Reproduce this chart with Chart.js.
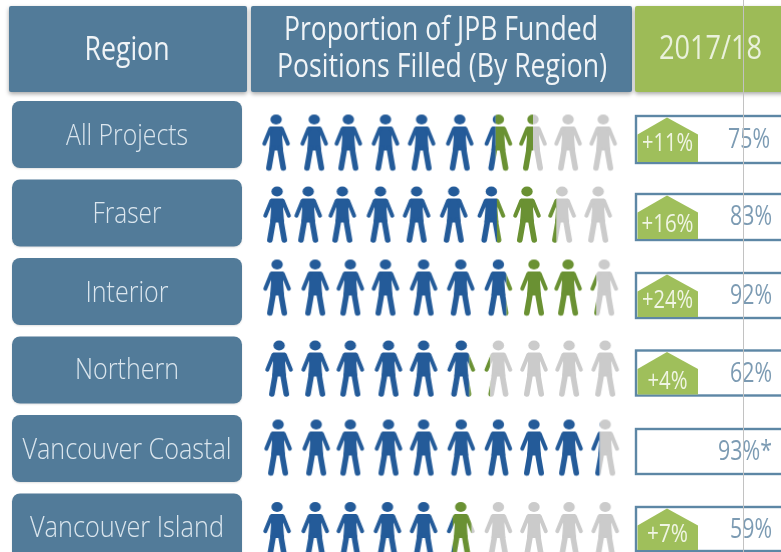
<!DOCTYPE html>
<html><head><meta charset="utf-8">
<style>html,body{margin:0;padding:0;background:#fff;width:781px;height:552px;overflow:hidden}canvas{display:block;filter:blur(.45px)}</style>
<script src="https://cdn.jsdelivr.net/npm/chart.js@4"></script></head>
<body><canvas id="c" width="781" height="600"></canvas>
<script>
// DATA
const regions = ["All Projects","Fraser","Interior","Northern","Vancouver Coastal","Vancouver Island"];
const filled2017 = [75,83,92,62,93,59];
const changePts  = [11,16,24,4,null,7];
const filledNotes = ["","","","","*",""];
const slots = [1,2,3,4,5,6,7,8,9,10];
const headerRegion = "Region";
const headerProportion = ["Proportion of JPB Funded","Positions Filled (By Region)"];
const headerYear = "2017/18";

// STYLE
const C = {head:"#527b99",box:"#527b99",blue:"#245b99",green:"#6a9133",grey:"#cbcbcb",hgreen:"#9dbb57",house:"#9fbf5b",
  text:"#f0f4f7",label:"#dbe6ee",pct:"#7c9bb3",stroke:"#5d87a5",rule:"#c2c2c2"};
const FF='"Open Sans"';
// small hand-placement offsets of the original (px): [row][slot]
const nudgeX = [
 [-2,0,-2,-1,-1,1,3.5,2,1,0],
 [-1,-6,-8,-6,-6,-5,-3.5,-4,-5,-5],
 [-1,1,0,-1,1,2,3.5,3,1,1],
 [1,1,0,2,1,2.5,3.5,3,2,2],
 [0,2,0,2,1,2.5,3.5,3,2,2],
 [-1,1,0,1,1,2,3.5,3,2,2]];
const nudgeY = [8.5,2,-3.5,-1,-0.5,3.5];
const statTop = [-18.5,-19,-18.5,-19.5,-19.5,-20];
const statH = [47,46,45,45,45,44];
const labelDy = [2,1,1.5,.5,1.5,1];
const pctDy = [6,4.5,5,4,4,3.5];
const chgDy = [9.5,12,9.5,11.5,11,8];
const pctCx = [749,751,751,751,745,751];
const chgW = [51,52,51,40,41,41];
const labelW = [122,69,83,104,209,194];

function personIcon(row,i){
  const cv=document.createElement('canvas');cv.width=80;cv.height=80;
  const x=cv.getContext('2d');
  const cx=40+nudgeX[row][i], cy=40+nudgeY[row]-23.5;
  const total=filled2017[row], chg=changePts[row]||0, prior=total-chg;
  const clamp=v=>Math.max(0,Math.min(1,v));
  const bEnd=clamp(prior/10-i), gEnd=clamp(total/10-i);
  const L=-13.5,W=27;
  const paint=(col,from,to)=>{
    if(to<=from)return;
    x.save();x.beginPath();
    const xl=from<=0?0:cx+L+W*from, xr=to>=1?80:cx+L+W*to;
    x.rect(xl,0,xr-xl,80);x.clip();
    x.fillStyle=col;x.strokeStyle=col;x.lineCap='round';x.lineJoin='round';
    x.translate(cx,cy);
    x.beginPath();x.ellipse(0,0,5.7,4.9,0,0,7);x.fill();
    x.beginPath();x.moveTo(-6,7);x.lineTo(6,7);x.lineTo(7.4,9.5);x.lineTo(6,17);x.lineTo(7,31);x.lineTo(-7,31);x.lineTo(-6,17);x.lineTo(-7.4,9.5);x.closePath();x.fill();
    x.lineWidth=4;
    x.beginPath();x.moveTo(-5.8,9.5);x.lineTo(-11.8,24.2);x.moveTo(5.8,9.5);x.lineTo(11.8,24.2);x.stroke();
    x.lineWidth=5.6;
    x.beginPath();x.moveTo(-3.8,29);x.lineTo(-7.2,48.4);x.moveTo(3.8,29);x.lineTo(7.2,48.4);x.stroke();
    x.restore();
  };
  paint(C.blue,0,bEnd);
  paint(C.green,bEnd,gEnd);
  paint(C.grey,gEnd,1);
  return cv;
}

function fitText(ctx,t,cx,cy,font,color,w){
  ctx.save();ctx.font=font;ctx.fillStyle=color;ctx.textAlign='center';ctx.textBaseline='middle';
  const m=ctx.measureText(t).width;
  ctx.translate(cx,cy);ctx.scale(w/m,1);ctx.fillText(t,0,0);ctx.restore();
}
function rr(ctx,x,y,w,h,r){ctx.beginPath();ctx.roundRect(x,y,w,h,r);}

const backdrop={id:'backdrop',beforeDatasetsDraw(chart){
  const ctx=chart.ctx,ys=chart.scales.y;
  ctx.save();
  ctx.shadowColor='rgba(0,0,0,.35)';ctx.shadowBlur=4;ctx.shadowOffsetY=2;
  ctx.fillStyle=C.head;rr(ctx,9,6,238,86,2);ctx.fill();
  rr(ctx,251,6,381,86,2);ctx.fill();
  ctx.fillStyle=C.hgreen;rr(ctx,635,6,160,86,2);ctx.fill();
  ctx.shadowColor='rgba(0,0,0,.12)';ctx.shadowBlur=2;ctx.shadowOffsetY=1;
  regions.forEach((r,i)=>{const y=ys.getPixelForValue(i);
    ctx.fillStyle=C.box;rr(ctx,12,y-33.5,230,67,8);ctx.fill();});
  ctx.restore();
  fitText(ctx,headerRegion,127,51,'400 33px '+FF,C.text,85);
  fitText(ctx,headerProportion[0],441,31,'400 32px '+FF,C.text,314);
  fitText(ctx,headerProportion[1],442,68,'400 32px '+FF,C.text,330);
  fitText(ctx,headerYear,710.5,50,'400 33px '+FF,'#eaf1dc',103);
  regions.forEach((r,i)=>{const y=ys.getPixelForValue(i);
    fitText(ctx,r,127,y+labelDy[i],'300 30px '+FF,C.label,labelW[i]);
    const top=y+statTop[i],h=statH[i];
    ctx.strokeStyle=C.stroke;ctx.lineWidth=2.4;ctx.strokeRect(636,top,170,h);
    if(changePts[i]!=null){
      const bot=top+h-1, apex=top+1.5;
      ctx.fillStyle=C.house;ctx.beginPath();
      ctx.moveTo(637.5,apex+17);ctx.lineTo(667,apex);ctx.lineTo(698,apex+17);ctx.lineTo(698,bot);ctx.lineTo(637.5,bot);ctx.closePath();ctx.fill();
      fitText(ctx,'+'+changePts[i]+'%',667.5,y+chgDy[i],'400 25px '+FF,'#f0f5e4',chgW[i]);
    }
    const pt=filled2017[i]+'%'+filledNotes[i];
    fitText(ctx,pt,pctCx[i],y+pctDy[i],'400 27px '+FF,C.pct,filledNotes[i]?54:42);
  });
},
afterDraw(chart){const ctx=chart.ctx;ctx.save();ctx.strokeStyle=C.rule;ctx.lineWidth=1;
  ctx.beginPath();ctx.moveTo(743.5,0);ctx.lineTo(743.5,600);ctx.stroke();ctx.restore();}};

new Chart(document.getElementById('c'),{
  type:'scatter',
  data:{datasets:regions.map((r,ri)=>({
    label:r,
    data:slots.map(s=>({x:s,y:r})),
    pointStyle:slots.map((s,i)=>personIcon(ri,i)),
    pointRadius:3,pointHoverRadius:3,clip:false,showLine:false
  }))},
  options:{responsive:false,animation:false,events:[],
    layout:{padding:{left:0,right:0,top:95.25,bottom:33.75}},
    plugins:{legend:{display:false},tooltip:{enabled:false}},
    scales:{
      x:{type:'linear',min:0.14,max:14.81,display:false},
      y:{type:'category',labels:regions,offset:true,position:'left',
        afterFit(s){s.width=247;},
        grid:{display:false,drawTicks:false},border:{display:false},ticks:{display:false}}
    }},
  plugins:[backdrop]
});
</script></body></html>
